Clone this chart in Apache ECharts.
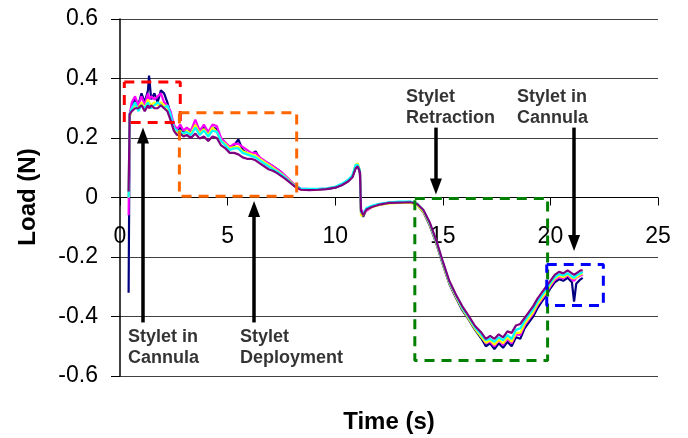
<!DOCTYPE html>
<html>
<head>
<meta charset="utf-8">
<script src="https://cdn.jsdelivr.net/npm/echarts@6/dist/echarts.min.js"></script>
<style>
  html, body { margin: 0; padding: 0; background: #fff; }
  #chart { width: 688px; height: 438px; }
</style>
</head>
<body>
<div id="chart"></div>
<script>
// Sampling times (s), shared by all five load traces
const timeSec = [
  0.40,0.45,0.55,0.70,0.85,1.00,1.15,1.30,1.35,1.45,
  1.60,1.75,1.90,2.05,2.20,2.35,2.50,2.65,2.80,2.95,
  3.10,3.30,3.50,3.70,3.90,4.10,4.30,4.50,4.70,4.90,
  5.10,5.30,5.50,5.70,5.90,6.10,6.30,6.50,6.70,6.90,
  7.10,7.30,7.50,7.70,7.90,8.10,8.40,8.80,9.20,9.60,
  10.00,10.30,10.60,10.80,10.95,11.05,11.15,11.20,11.30,11.45,
  11.70,12.00,12.50,13.00,13.50,13.80,14.10,14.40,14.70,15.00,
  15.30,15.60,15.90,16.20,16.50,16.80,17.00,17.20,17.40,17.60,
  17.80,18.00,18.20,18.40,18.60,18.80,19.00,19.20,19.40,19.60,
  19.80,20.00,20.20,20.40,20.60,20.80,21.00,21.10,21.20,21.40,21.50
];

// Load (N) for each trial
const trial1 = [
  -0.32,0.27,0.31,0.33,0.31,0.35,0.32,0.36,0.41,0.33,
  0.35,0.32,0.36,0.35,0.32,0.28,0.24,0.22,0.235,0.215,
  0.225,0.22,0.245,0.215,0.235,0.21,0.235,0.23,0.19,0.18,
  0.17,0.175,0.195,0.16,0.15,0.145,0.155,0.13,0.12,0.115,
  0.105,0.095,0.085,0.07,0.056,0.042,0.028,0.027,0.027,0.029,
  0.033,0.042,0.055,0.07,0.10,0.11,0.08,-0.05,-0.065,-0.04,
  -0.03,-0.024,-0.018,-0.016,-0.015,-0.024,-0.05,-0.095,-0.155,-0.225,
  -0.29,-0.335,-0.378,-0.41,-0.445,-0.475,-0.50,-0.49,-0.51,-0.49,
  -0.505,-0.485,-0.50,-0.47,-0.475,-0.44,-0.42,-0.40,-0.372,-0.35,
  -0.33,-0.305,-0.285,-0.275,-0.28,-0.27,-0.285,-0.35,-0.29,-0.275,-0.27
];
const trial2 = [
  -0.06,0.28,0.32,0.34,0.31,0.34,0.31,0.35,0.33,0.34,
  0.33,0.34,0.35,0.32,0.31,0.29,0.245,0.23,0.245,0.225,
  0.235,0.225,0.262,0.225,0.245,0.22,0.245,0.24,0.20,0.185,
  0.17,0.18,0.18,0.17,0.16,0.15,0.15,0.135,0.125,0.115,
  0.105,0.095,0.085,0.072,0.058,0.044,0.03,0.028,0.028,0.03,
  0.035,0.043,0.057,0.072,0.105,0.11,0.09,-0.04,-0.05,-0.045,
  -0.032,-0.025,-0.018,-0.016,-0.016,-0.022,-0.046,-0.09,-0.15,-0.22,
  -0.285,-0.33,-0.372,-0.405,-0.44,-0.468,-0.49,-0.485,-0.50,-0.48,
  -0.495,-0.475,-0.49,-0.46,-0.462,-0.43,-0.41,-0.39,-0.362,-0.342,
  -0.322,-0.298,-0.278,-0.268,-0.272,-0.262,-0.275,-0.28,-0.27,-0.262,-0.26
];
const trial3 = [
  0.00,0.27,0.30,0.31,0.30,0.32,0.30,0.33,0.32,0.31,
  0.32,0.31,0.32,0.31,0.30,0.27,0.235,0.22,0.225,0.21,
  0.225,0.215,0.245,0.215,0.23,0.21,0.235,0.22,0.19,0.18,
  0.165,0.17,0.17,0.155,0.15,0.145,0.14,0.13,0.12,0.11,
  0.10,0.09,0.08,0.068,0.055,0.042,0.028,0.027,0.027,0.03,
  0.035,0.044,0.058,0.073,0.11,0.115,0.09,-0.06,-0.06,-0.04,
  -0.033,-0.026,-0.02,-0.018,-0.018,-0.024,-0.048,-0.092,-0.152,-0.222,
  -0.287,-0.332,-0.374,-0.407,-0.442,-0.47,-0.488,-0.48,-0.495,-0.478,
  -0.49,-0.47,-0.485,-0.455,-0.455,-0.425,-0.405,-0.385,-0.358,-0.338,
  -0.318,-0.293,-0.273,-0.263,-0.268,-0.258,-0.27,-0.272,-0.268,-0.258,-0.255
];
const trial4 = [
  0.00,0.28,0.30,0.32,0.29,0.31,0.30,0.32,0.31,0.30,
  0.31,0.32,0.31,0.30,0.31,0.28,0.235,0.225,0.22,0.215,
  0.22,0.21,0.235,0.21,0.225,0.205,0.225,0.22,0.19,0.175,
  0.16,0.165,0.165,0.15,0.145,0.14,0.135,0.125,0.115,0.105,
  0.095,0.088,0.078,0.066,0.053,0.04,0.03,0.029,0.029,0.031,
  0.036,0.046,0.06,0.075,0.11,0.11,0.09,-0.05,-0.055,-0.035,
  -0.028,-0.022,-0.016,-0.014,-0.014,-0.02,-0.043,-0.088,-0.148,-0.218,
  -0.283,-0.328,-0.37,-0.402,-0.437,-0.462,-0.48,-0.475,-0.485,-0.47,
  -0.48,-0.462,-0.475,-0.445,-0.44,-0.415,-0.395,-0.375,-0.35,-0.33,
  -0.31,-0.287,-0.268,-0.258,-0.262,-0.255,-0.265,-0.27,-0.262,-0.255,-0.25
];
const trial5 = [
  0.02,0.28,0.29,0.30,0.30,0.31,0.29,0.31,0.30,0.31,
  0.30,0.30,0.31,0.30,0.29,0.26,0.225,0.21,0.215,0.205,
  0.21,0.20,0.215,0.198,0.205,0.19,0.205,0.20,0.175,0.165,
  0.15,0.15,0.145,0.135,0.13,0.13,0.125,0.115,0.105,0.095,
  0.09,0.082,0.072,0.062,0.05,0.038,0.026,0.025,0.026,0.028,
  0.033,0.041,0.054,0.068,0.098,0.105,0.085,-0.045,-0.06,-0.04,
  -0.032,-0.025,-0.018,-0.017,-0.016,-0.021,-0.042,-0.085,-0.145,-0.215,
  -0.28,-0.325,-0.365,-0.398,-0.432,-0.455,-0.475,-0.465,-0.475,-0.46,
  -0.47,-0.45,-0.455,-0.43,-0.425,-0.405,-0.385,-0.365,-0.34,-0.32,
  -0.30,-0.28,-0.26,-0.25,-0.255,-0.245,-0.255,-0.26,-0.255,-0.245,-0.245
];

// Phase boxes: [t start, t end, load low, load high]
const cannulaBox    = [0.2, 2.8, 0.252, 0.388];
const deploymentBox = [2.76, 8.21, 0.004, 0.285];
const retractionBox = [13.7, 19.87, -0.548, -0.003];
const reentryBox    = [19.83, 22.46, -0.363, -0.225];

// Arrows: time, tail load, head load
const arrowTime = [1.07, 6.23, 14.68, 21.1];
const arrowTail = [-0.42, -0.42, 0.235, 0.235];
const arrowHead = [0.208, -0.039, 0.037, -0.153];

// Phase notes
const noteText = ['Stylet in\nCannula', 'Stylet\nDeployment', 'Stylet\nRetraction', 'Stylet in\nCannula'];
const noteTime = [0.37, 5.58, 13.29, 18.45];
const noteLoad = [-0.504, -0.504, 0.3025, 0.3025];

const FONT = '"Liberation Sans", Arial, sans-serif';
const traces = [trial1, trial2, trial3, trial4, trial5];
const traceColors = ['#000080', '#FF00FF', '#FFFF00', '#00FFFF', '#800080'];

const traceSeries = traces.map((vals, i) => ({
  type: 'line',
  name: 'Trial ' + (i + 1),
  data: timeSec.map((t, k) => [t, vals[k]]),
  symbol: 'none',
  lineStyle: { color: traceColors[i], width: 2.2 },
  z: 2 + i,
  silent: true
}));

function boxSeries(b, color) {
  return {
    type: 'line',
    data: [[b[0], b[3]], [b[1], b[3]], [b[1], b[2]], [b[0], b[2]], [b[0], b[3]]],
    symbol: 'none',
    lineStyle: { color: color, width: 3, type: [10, 7] },
    z: 10,
    silent: true
  };
}

const arrowSeries = {
  type: 'line',
  data: [],
  z: 11,
  silent: true,
  markLine: {
    silent: true,
    symbol: ['none', 'triangle'],
    symbolSize: [12, 16],
    label: { show: false },
    lineStyle: { color: '#000', width: 3.5, type: 'solid' },
    animation: false,
    data: arrowTime.map((t, i) => [
      { coord: [t, arrowTail[i]] },
      { coord: [t, arrowHead[i]] }
    ])
  }
};

const noteSeries = {
  type: 'scatter',
  data: noteTime.map((t, i) => [t, noteLoad[i], noteText[i]]),
  symbolSize: 0,
  z: 12,
  silent: true,
  label: {
    show: true,
    position: 'right',
    distance: 0,
    formatter: p => p.data[2],
    fontFamily: FONT,
    fontSize: 18,
    fontWeight: 'bold',
    lineHeight: 21,
    color: '#000',
    align: 'left'
  }
};

const chart = echarts.init(document.getElementById('chart'), null, { renderer: 'canvas' });
chart.setOption({
  animation: false,
  backgroundColor: '#fff',
  grid: { left: 120, right: 30, top: 19, bottom: 62 },
  xAxis: {
    type: 'value',
    position: 'bottom',
    // the time axis sits on the zero-load line, half the plot height above the bottom
    offset: -178.5,
    min: 0, max: 25, interval: 5,
    axisLine: { onZero: false, lineStyle: { color: '#000', width: 1 } },
    axisTick: { show: true, length: 8, lineStyle: { color: '#000', width: 1 } },
    axisLabel: { fontFamily: FONT, fontSize: 23, color: '#000', margin: 28 },
    splitLine: { show: false }
  },
  yAxis: {
    type: 'value',
    min: -0.6, max: 0.6, interval: 0.2,
    axisLine: { show: true, onZero: false, lineStyle: { color: '#000', width: 1.5 } },
    axisTick: { show: true, length: 9, lineStyle: { color: '#000', width: 1 } },
    axisLabel: {
      fontFamily: FONT, fontSize: 23, color: '#000', margin: 22,
      formatter: v => String(parseFloat(v.toFixed(1)))
    },
    splitLine: { show: true, lineStyle: { color: '#404040', width: 1 } }
  },
  graphic: [
    {
      type: 'text', x: 389, y: 422,
      style: { text: 'Time (s)', font: 'bold 24px ' + FONT, fill: '#000', align: 'center', verticalAlign: 'middle' }
    },
    {
      type: 'text', x: 28, y: 197, rotation: Math.PI / 2,
      style: { text: 'Load (N)', font: 'bold 24px ' + FONT, fill: '#000', align: 'center', verticalAlign: 'middle' }
    }
  ],
  series: [
    ...traceSeries,
    boxSeries(cannulaBox, '#FF0000'),
    boxSeries(deploymentBox, '#FF6600'),
    boxSeries(retractionBox, '#008000'),
    boxSeries(reentryBox, '#0000FF'),
    arrowSeries,
    noteSeries
  ]
});
</script>
</body>
</html>
